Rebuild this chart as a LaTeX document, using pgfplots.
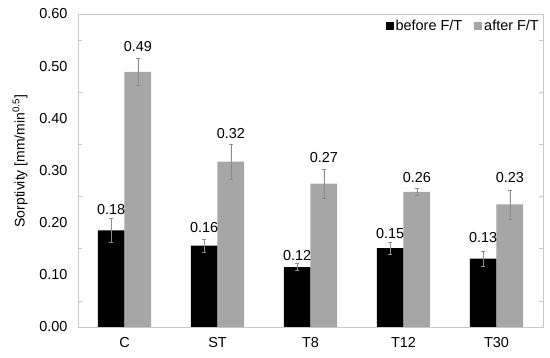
\documentclass[border=0pt]{standalone}
\usepackage{pgfplots}
\pgfplotsset{compat=1.18}
\usepackage{fontspec}
\setmainfont{Liberation Sans}
\definecolor{barGray}{HTML}{A6A6A6}
\definecolor{axGray}{HTML}{C8C8C8}
\definecolor{errGray}{HTML}{8C8C8C}
\pgfplotstableread{
x y e
-0.1435 0.185 0.023
0.8565 0.156 0.012
1.8565 0.115 0.007
2.8565 0.151 0.011
3.8565 0.131 0.015
}\before
\pgfplotstableread{
x y e
0.1435 0.489 0.026
1.1435 0.317 0.033
2.1435 0.275 0.028
3.1435 0.259 0.007
4.1435 0.235 0.028
}\after
\pgfplotstableread{
x y l
-0.1435 0.225 0.18
0.8565 0.190 0.16
1.8565 0.137 0.12
2.8565 0.179 0.15
3.8565 0.171 0.13
0.1435 0.538 0.49
1.1435 0.371 0.32
2.1435 0.324 0.27
3.1435 0.287 0.26
4.1435 0.286 0.23
}\labels
\begin{document}
\begin{tikzpicture}
\path[use as bounding box] (-78bp,-31bp) rectangle (472bp,327bp);
\begin{axis}[
  scale only axis, width=465bp, height=313bp,
  at={(0,0)}, anchor=south west,
  xmin=-0.5, xmax=4.5, ymin=0, ymax=0.6,
  xtick={0,1,2,3,4}, xticklabels={C,ST,T8,T12,T30},
  ytick={0,0.1,0.2,0.3,0.4,0.5,0.6},
  minor y tick num=1,
  major tick length=0pt, minor tick length=4bp,
  tick style={axGray, line width=0.6pt},
  axis line style={axGray, line width=0.8pt},
  /pgf/number format/assume math mode=true,
  yticklabel style={/pgf/number format/.cd, fixed, fixed zerofill, precision=2, /tikz/.cd, xshift=-7bp},
  xticklabel style={yshift=-7bp},
  tick label style={font=\fontsize{14.5}{17}\selectfont, black},
  ylabel={Sorptivity [mm/min\textsuperscript{0.5}]},
  ylabel style={at={(axis description cs:-0.1247,0.53)}, anchor=center, font=\fontsize{14}{17}\selectfont},
  legend columns=2,
  legend style={at={(1,1)}, anchor=north east, draw=none, fill=none, yshift=-3bp, xshift=-1bp,
    font=\fontsize{14.5}{17}\selectfont, inner sep=1bp,
    /tikz/every even column/.append style={column sep=10bp}},
  legend cell align=left,
  legend image code/.code={\fill[#1] (0bp,-4bp) rectangle (8bp,4bp);},
]
\addplot[ybar, bar width=26.7bp, bar shift=0pt, fill=black, draw=none,
  error bars/.cd, y dir=both, y explicit,
  error bar style={errGray, line width=0.6pt},
  error mark options={rotate=90, mark size=2bp, errGray, line width=0.6pt}]
  table[x=x, y=y, y error=e] {\before};
\addlegendentry{before F/T}
\addplot[ybar, bar width=26.7bp, bar shift=0pt, fill=barGray, draw=none,
  error bars/.cd, y dir=both, y explicit,
  error bar style={errGray, line width=0.6pt},
  error mark options={rotate=90, mark size=2bp, errGray, line width=0.6pt}]
  table[x=x, y=y, y error=e] {\after};
\addlegendentry{after F/T}
\addplot[draw=none, mark=none, forget plot, nodes near coords, point meta=explicit symbolic,
  every node near coord/.append style={anchor=center, font=\fontsize{14.5}{17}\selectfont, black}]
  table[x=x, y=y, meta=l] {\labels};
\end{axis}
\end{tikzpicture}
\end{document}
